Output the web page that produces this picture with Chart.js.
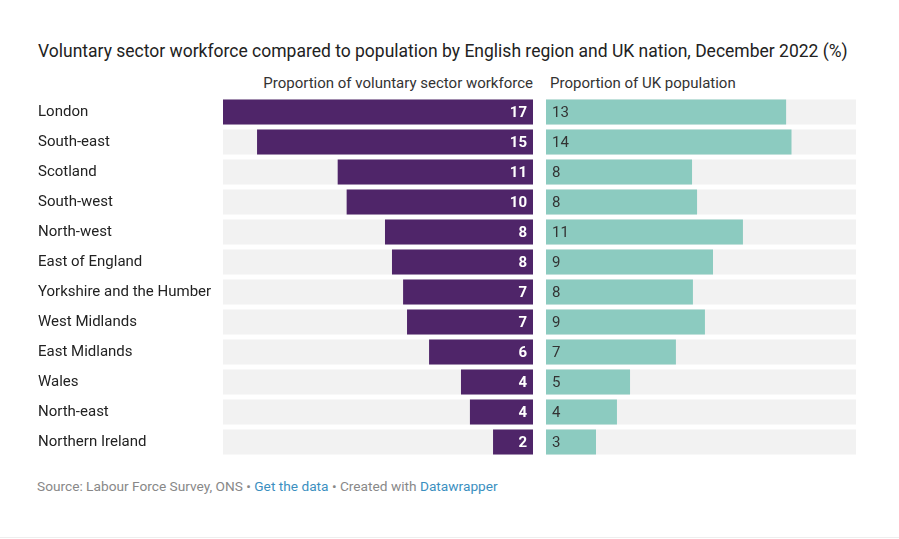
<!DOCTYPE html>
<html>
<head>
<meta charset="utf-8">
<script src="https://cdn.jsdelivr.net/npm/chart.js@4"></script>
<style>
  body { margin: 0; background: #fff; font-family: Roboto, sans-serif; }
  #wrap { position: relative; width: 899px; height: 539px; overflow: hidden; }
  .title { position: absolute; left: 38px; top: 41px; font-size: 17.5px; color: #222; white-space: nowrap; }
  .head { position: absolute; top: 74px; font-size: 15px; color: #333; white-space: nowrap; }
  #headLeft { right: 366px; }
  #headRight { left: 550px; }
  .foot { position: absolute; left: 37px; top: 478px; font-size: 13.7px; color: #888; white-space: nowrap; }
  .foot span.link { color: #3b8fbf; }
  #leftBox { position: absolute; left: 38px; top: 97px; width: 495px; height: 360px; }
  #rightBox { position: absolute; left: 546px; top: 97px; width: 310px; height: 360px; }
  .rule { position: absolute; left: 0; top: 537px; width: 899px; height: 1px; background: #eee; }
</style>
</head>
<body>
<div id="wrap">
  <div class="title">Voluntary sector workforce compared to population by English region and UK nation, December 2022 (%)</div>
  <div class="head" id="headLeft">Proportion of voluntary sector workforce</div>
  <div class="head" id="headRight">Proportion of UK population</div>
  <div id="leftBox"><canvas id="leftChart"></canvas></div>
  <div id="rightBox"><canvas id="rightChart"></canvas></div>
  <div class="foot">Source: Labour Force Survey, ONS • <span class="link">Get the data</span> • Created with <span class="link">Datawrapper</span></div>
  <div class="rule"></div>
</div>
<script>
var regions = ["London", "South-east", "Scotland", "South-west", "North-west", "East of England",
    "Yorkshire and the Humber", "West Midlands", "East Midlands", "Wales", "North-east", "Northern Ireland"];

var workforce = [17.3, 15.4, 10.9, 10.4, 8.26, 7.87, 7.25, 7.03, 5.8, 4.02, 3.52, 2.23];
var population = [13.4, 13.7, 8.15, 8.43, 10.99, 9.32, 8.2, 8.87, 7.25, 4.69, 3.96, 2.79];

var scaleMax = Math.max.apply(null, workforce.concat(population));
var fullBars = regions.map(function() { return scaleMax; });

var purple = "#4f2569";
var teal = "#8ccbc0";
var grey = "#f2f2f2";

// writes the rounded value at the end of each bar
var valueLabels = {
    id: "valueLabels",
    afterDatasetsDraw: function(chart, args, opts) {
        var ctx = chart.ctx;
        var meta = chart.getDatasetMeta(1);
        var values = chart.data.datasets[1].data;
        ctx.save();
        ctx.font = opts.font;
        ctx.fillStyle = opts.color;
        ctx.textBaseline = "middle";
        ctx.textAlign = opts.align;
        meta.data.forEach(function(bar, i) {
            var x = opts.align === "right" ? bar.base - 6 : bar.base + 6;
            ctx.fillText(Math.round(values[i]), x, bar.y + 1);
        });
        ctx.restore();
    }
};

function makeChart(el, values, color, reverse, showLabels, labelOpts) {
    return new Chart(el, {
        type: "bar",
        data: {
            labels: regions,
            datasets: [
                { data: fullBars, backgroundColor: grey, grouped: false, order: 2 },
                { data: values, backgroundColor: color, grouped: false, order: 1 }
            ]
        },
        options: {
            indexAxis: "y",
            responsive: true,
            maintainAspectRatio: false,
            animation: false,
            barPercentage: 25 / 30,
            categoryPercentage: 1,
            layout: { padding: 0 },
            plugins: {
                legend: { display: false },
                tooltip: { enabled: false },
                valueLabels: labelOpts
            },
            scales: {
                x: { display: false, min: 0, max: scaleMax, reverse: reverse },
                y: {
                    display: showLabels,
                    position: "left",
                    grid: { display: false },
                    border: { display: false },
                    afterFit: function(axis) {
                        if (showLabels) axis.width = 185;
                        axis.paddingTop = 0;
                        axis.paddingBottom = 0;
                    },
                    ticks: {
                        crossAlign: "far",
                        padding: 0,
                        color: "#222",
                        font: { family: "Roboto", size: 15 }
                    }
                }
            }
        },
        plugins: [valueLabels]
    });
}

// the left chart is drawn from the right edge, so its base sits next to the middle
var leftOpts = { font: "bold 15px Roboto", color: "#ffffff", align: "right" };
var rightOpts = { font: "15px Roboto", color: "#333333", align: "left" };

makeChart(document.getElementById("leftChart"), workforce, purple, true, true, leftOpts);
makeChart(document.getElementById("rightChart"), population, teal, false, false, rightOpts);
</script>
</body>
</html>
